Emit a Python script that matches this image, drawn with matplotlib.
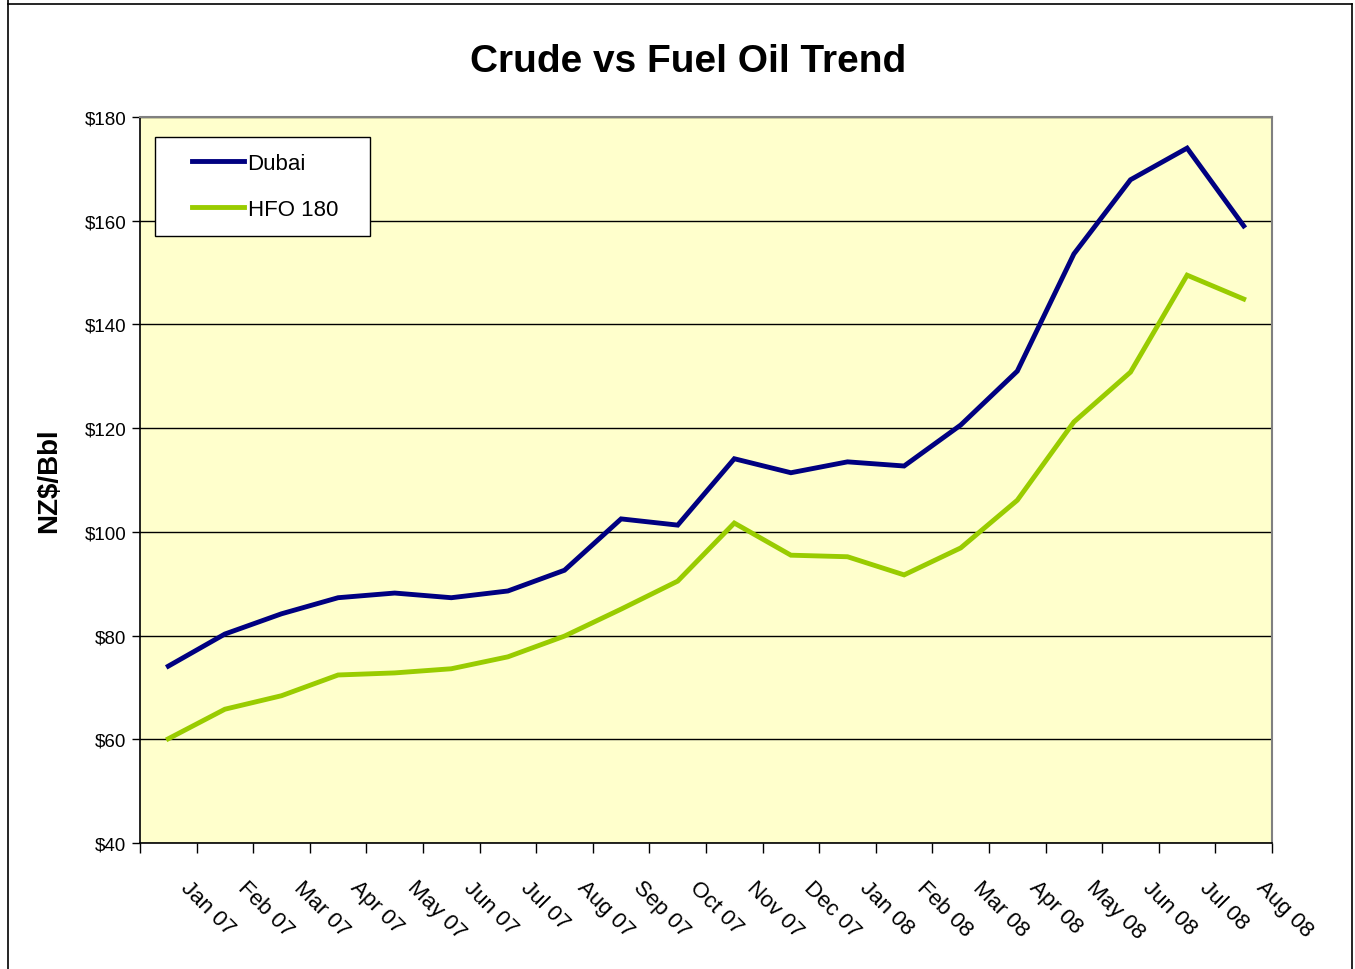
import matplotlib

matplotlib.use("Agg")

import matplotlib.pyplot as plt
import matplotlib.transforms as mtransforms
import numpy as np
from matplotlib.lines import Line2D

plt.rcParams["font.family"] = ["Liberation Sans", "DejaVu Sans"]

# 月份标签
months = ["Jan 07", "Feb 07", "Mar 07", "Apr 07", "May 07", "Jun 07", "Jul 07",
          "Aug 07", "Sep 07", "Oct 07", "Nov 07", "Dec 07", "Jan 08", "Feb 08",
          "Mar 08", "Apr 08", "May 08", "Jun 08", "Jul 08", "Aug 08"]

# NZ$/Bbl
dubai = [74.1, 80.3, 84.2, 87.3, 88.2, 87.3, 88.6, 92.6, 102.5, 101.3,
         114.1, 111.4, 113.5, 112.7, 120.6, 131.0, 153.6, 167.9, 174.0, 159.0]
hfo180 = [60.1, 65.8, 68.4, 72.4, 72.8, 73.6, 75.9, 79.9, 85.1, 90.5,
          101.7, 95.5, 95.2, 91.7, 96.9, 106.1, 121.2, 130.8, 149.5, 144.9]

y_ticks = [40, 60, 80, 100, 120, 140, 160, 180]

fig = plt.figure(figsize=(13.55, 9.7), dpi=100)
ax = fig.add_axes([140 / 1355, 1 - 844 / 970, 1132 / 1355, 726 / 970])
ax.set_facecolor("#FFFFCC")

x = np.arange(len(months))
ax.plot(x, dubai, color="#000080", lw=3.5, solid_joinstyle="miter", label="Dubai", zorder=3)
ax.plot(x, hfo180, color="#99CC00", lw=3.5, solid_joinstyle="miter", label="HFO 180", zorder=3)

ax.set_xlim(-0.5, len(months) - 0.5)
ax.set_ylim(40, 180)

# 网格线
ax.set_yticks(y_ticks)
ax.set_yticklabels([f"${v}" for v in y_ticks], fontsize=13.5)
ax.yaxis.grid(True, color="black", lw=1)
ax.set_axisbelow(True)
ax.tick_params(axis="y", direction="out", length=6, width=1, color="black", pad=4)

# x 轴：主刻度在分界处，标签在中间
ax.set_xticks(np.arange(-0.5, len(months), 1.0))
ax.set_xticklabels([])
ax.tick_params(axis="x", which="major", direction="out", length=7, width=1, color="black")
ax.set_xticks(x, minor=True)
ax.set_xticklabels(months, minor=True, fontsize=16, rotation=-45,
                   ha="left", va="top", rotation_mode="anchor")
ax.tick_params(axis="x", which="minor", length=0, pad=24)
offset = mtransforms.ScaledTranslation(0.23, 0, fig.dpi_scale_trans)
for lab in ax.xaxis.get_minorticklabels():
    lab.set_transform(lab.get_transform() + offset)

for side in ["top", "right"]:
    ax.spines[side].set_color("#808080")
    ax.spines[side].set_linewidth(1.5)
for side in ["left", "bottom"]:
    ax.spines[side].set_color("black")
    ax.spines[side].set_linewidth(1.2)

ax.set_ylabel("NZ$/Bbl", fontsize=20, fontweight="bold", labelpad=16)

fig.text(688 / 1355, 1 - 62 / 970, "Crude vs Fuel Oil Trend", fontsize=28,
         fontweight="bold", ha="center", va="center")

leg = ax.legend(["Dubai", "HFO 180      "], loc="upper left",
                bbox_to_anchor=(15 / 1132, 1 - 20 / 726),
                fontsize=16, frameon=True, fancybox=False, handlelength=2.35,
                handletextpad=0.15, borderpad=0.72, labelspacing=1.12,
                borderaxespad=0)
leg.get_frame().set_edgecolor("black")
leg.get_frame().set_linewidth(1)
leg.get_frame().set_facecolor("white")
leg.get_frame().set_alpha(1)
# 图例线条往右挪一点
shift = mtransforms.ScaledTranslation(0.21, 0, fig.dpi_scale_trans)
for h in leg.legend_handles:
    h.set_transform(h.get_transform() + shift)
for t in leg.get_texts():
    t.set_transform(t.get_transform() + shift)

# 外框
for xs, ys in [([8, 8], [0, 970]), ([8, 1352], [5, 5]), ([1352, 1352], [5, 970])]:
    fig.add_artist(Line2D([v / 1355 for v in xs], [1 - v / 970 for v in ys],
                          transform=fig.transFigure, color="black", lw=1.2))

fig.savefig("out.png", dpi=100)
